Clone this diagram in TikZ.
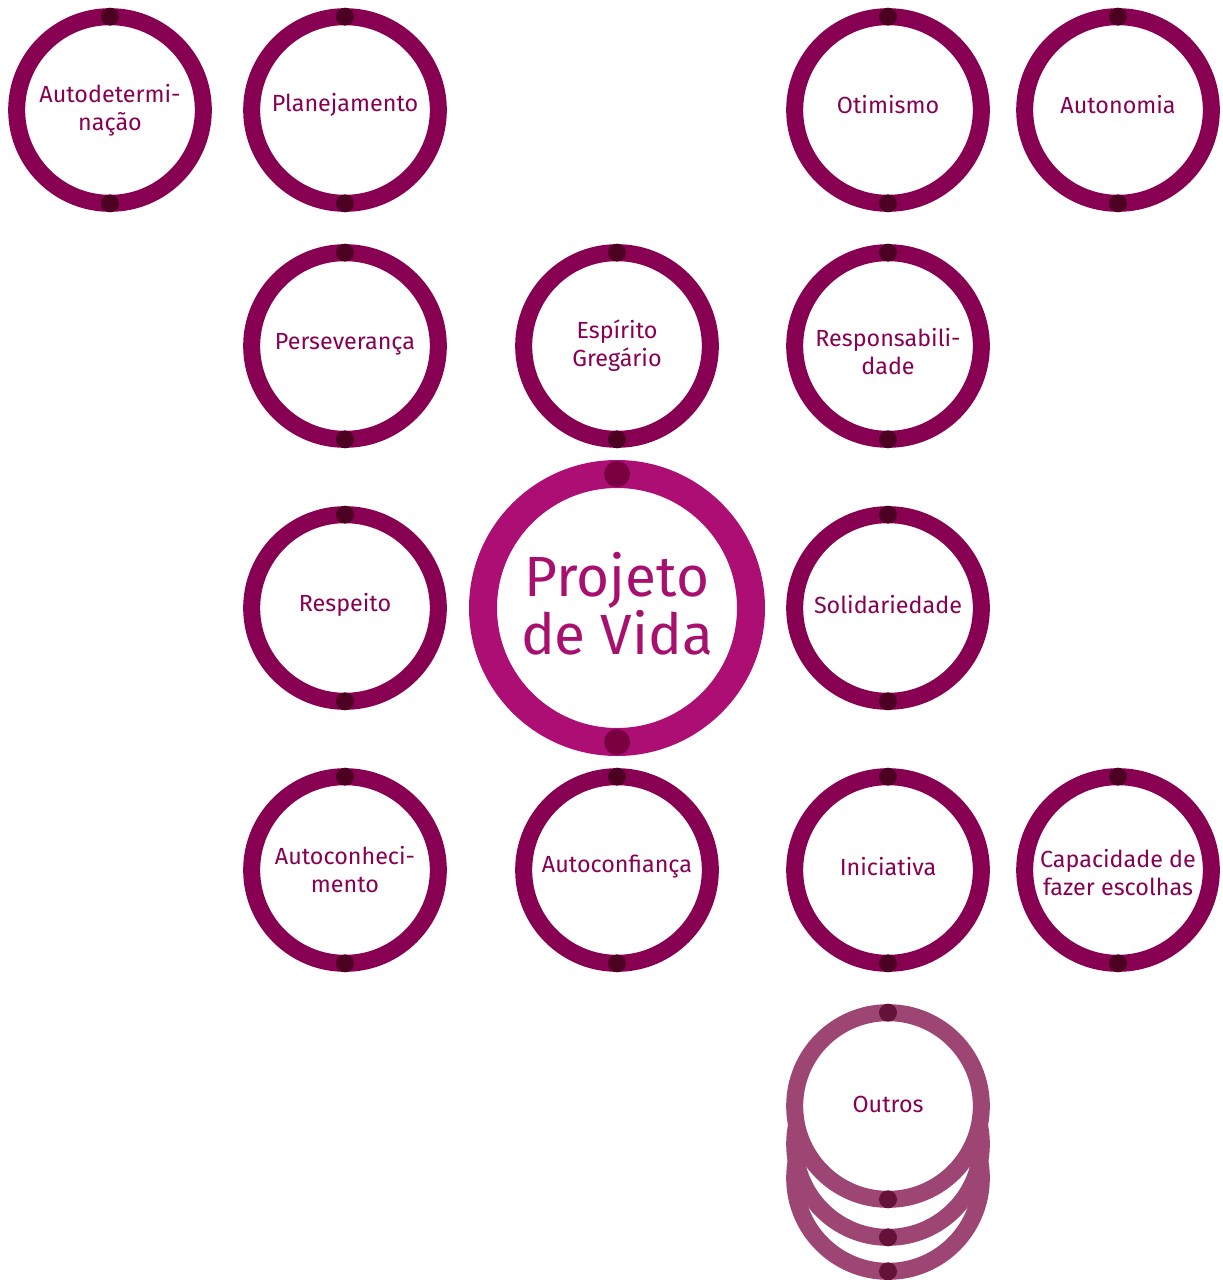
\documentclass[tikz,border=0pt]{standalone}
\usepackage{fontspec}
\setmainfont{Fira Sans}
\definecolor{ringc}{HTML}{870052}
\definecolor{dotc}{HTML}{4C0022}
\definecolor{bigc}{HTML}{AD0E73}
\definecolor{bigdot}{HTML}{790040}
\definecolor{othc}{HTML}{9E4673}
\definecolor{othdot}{HTML}{651238}
\definecolor{txtc}{HTML}{870052}
\definecolor{bigtxt}{HTML}{A8106F}
\tikzset{
  ring/.style={circle, draw=ringc, line width=12.75pt, minimum size=140pt, inner sep=0pt, outer sep=0pt},
  bigring/.style={circle, draw=bigc, line width=21pt, minimum size=201pt, inner sep=0pt, outer sep=0pt},
  othring/.style={ring, draw=othc, fill=white},
  lbl/.style={align=center, text=txtc, inner sep=0pt, font=\fontsize{17.5pt}{21pt}\selectfont},
  biglbl/.style={align=center, text=bigtxt, inner sep=0pt, font=\fontsize{42.5pt}{42pt}\selectfont},
}
\begin{document}
\begin{tikzpicture}[x=0.75pt,y=-0.75pt]
\useasboundingbox (0,0) rectangle (1222,1280);
% small circles
\foreach \nm/\px/\py/\tx/\dy in {
  a/110/110/{Autodetermi-\\nação}/0,
  b/345/110/{Planejamento}/-5,
  c/888/110/{Otimismo}/-5,
  d/1118/110/{Autonomia}/-5,
  e/345/346/{Perseverança}/-2,
  f/617/346/{Espírito\\Gregário}/0,
  g/888/346/{Responsabili-\\dade}/6,
  h/345/608/{Respeito}/-3,
  i/888/608/{Solidariedade}/-3,
  j/345/870/{Autoconheci-\\mento}/0,
  k/617/870/{Autoconfiança}/-3,
  l/888/870/{Iniciativa}/-3,
  m/1118/870/{Capacidade de\\fazer escolhas}/3} {
  \node[ring] (\nm) at (\px,\py) {};
  \node[lbl] (t\nm) at (\px,\py+\dy) {\tx};
  \fill[dotc] (\nm.north) circle (6.75pt);
  \fill[dotc] (\nm.south) circle (6.75pt);
}
% center
\node[bigring] (pv) at (617,608) {};
\node[biglbl] (tpv) at (617,604) {Projeto\\de Vida};
\fill[bigdot] (pv.north) circle (9.75pt);
\fill[bigdot] (pv.south) circle (9.75pt);
% outros stack
\node[othring] (o3) at (888,1178) {};
\fill[othdot] (o3.south) circle (6.75pt);
\node[othring] (o2) at (888,1144) {};
\fill[othdot] (o2.south) circle (6.75pt);
\node[othring] (o1) at (888,1106) {};
\node[lbl] (to1) at (888,1104) {Outros};
\fill[othdot] (o1.north) circle (6.75pt);
\fill[othdot] (o1.south) circle (6.75pt);
\end{tikzpicture}
\end{document}
